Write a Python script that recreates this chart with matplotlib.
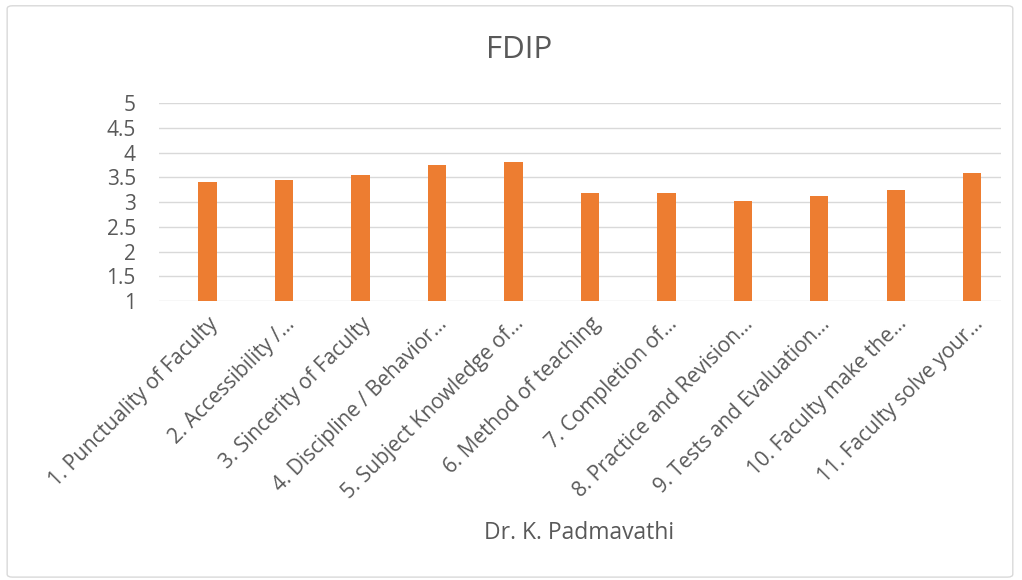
import matplotlib
matplotlib.use('Agg')
import matplotlib.pyplot as plt
from matplotlib.patches import FancyBboxPatch

# data
labels = ['1. Punctuality of Faculty', '2. Accessibility /\u2026', '3. Sincerity of Faculty',
          '4. Discipline / Behavior\u2026', '5. Subject Knowledge of\u2026', '6. Method of teaching',
          '7. Completion of\u2026', '8. Practice and Revision\u2026', '9. Tests and Evaluation\u2026',
          '10. Faculty make the\u2026', '11. Faculty solve your\u2026']
scores = [3.40, 3.45, 3.54, 3.75, 3.81, 3.19, 3.19, 3.03, 3.13, 3.24, 3.59]
yticks = [1, 1.5, 2, 2.5, 3, 3.5, 4, 4.5, 5]

plt.rcParams['font.family'] = ['Open Sans', 'DejaVu Sans']
text_col = '#595959'

fig = plt.figure(figsize=(10.22, 5.8), dpi=100)
fig.patches.append(FancyBboxPatch((0.007, 0.005), 0.984, 0.985, boxstyle='round,pad=0,rounding_size=0.005',
                                  transform=fig.transFigure, fill=False, edgecolor='#d9d9d9', lw=1))
ax = fig.add_axes([0.156, 0.481, 0.823, 0.341])

x = range(len(scores))
ax.bar(x, scores, width=0.24, color='#ed7d31', bottom=0)
ax.set_ylim(1, 5)
# bars sit a little right of centre in the original
ax.set_xlim(-0.63, len(scores) - 0.63)
ax.set_yticks(yticks)
ax.set_yticklabels(['%g' % v for v in yticks], fontsize=15, color=text_col)
ax.set_xticks(list(x))
ax.set_xticklabels(labels, rotation=45, ha='right', va='top', rotation_mode='anchor',
                   fontsize=15, color=text_col)
ax.tick_params(length=0, pad=9)
ax.tick_params(axis='y', pad=17)
ax.grid(axis='y', color='#d9d9d9', lw=1)
ax.set_axisbelow(True)
for s in ax.spines.values():
    s.set_visible(False)

fig.text(0.508, 0.913, 'FDIP', ha='center', va='center', fontsize=22.5, color=text_col)
fig.text(0.567, 0.081, 'Dr. K. Padmavathi', ha='center', va='center', fontsize=16.5, color=text_col)

fig.savefig('out.png', dpi=100)
